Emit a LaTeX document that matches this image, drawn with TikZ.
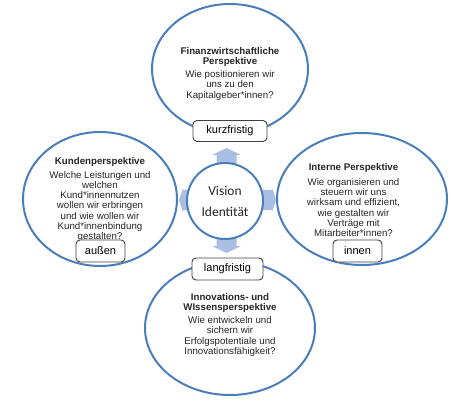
\documentclass[tikz,border=0pt]{standalone}
\usepackage{fontspec}
\setmainfont{Liberation Sans}
\newfontfamily\carlito{Carlito}
\usetikzlibrary{shapes.geometric}
\definecolor{ringblue}{HTML}{4A7EBB}
\definecolor{arrowblue}{HTML}{A9BEE2}
\definecolor{boxline}{HTML}{404040}
\definecolor{txt}{HTML}{262626}
\tikzset{
 ring/.style={ellipse, draw=ringblue, line width=2pt, fill=white, inner sep=0pt},
 body/.style={align=center, text=txt, font=\fontsize{9.7}{10.3}\selectfont, inner sep=0pt},
 tag/.style={draw=boxline, line width=0.9pt, rounded corners=4pt, fill=white, font=\fontsize{11}{12}\selectfont, inner sep=0pt, text=black},
 blockarrow/.style={fill=arrowblue, draw=none},
}
\begin{document}
\begin{tikzpicture}[x=1pt,y=-1pt]
\useasboundingbox (0,0) rectangle (450,401);
% outer rings
\node[ring, minimum width=156, minimum height=130] (fin) at (230,69) {};
\node[ring, minimum width=154, minimum height=134] (kund) at (100,199) {};
\node[ring, minimum width=170, minimum height=132] (intern) at (362,199) {};
\node[ring, minimum width=170, minimum height=134] (innov) at (230,328) {};
% texts
\node[body] (fintxt) at (230,73.5) {\textbf{Finanzwirtschaftliche}\\\textbf{Perspektive}\\[2.8pt]Wie positionieren wir\\uns zu den\\Kapitalgeber*innen?};
\node[body] (kundtxt) at (100,199.5) {\textbf{Kundenperspektive}\\[3.5pt]Welche Leistungen und\\welchen\\Kund*innennutzen\\wollen wir erbringen\\und wie wollen wir\\Kund*innenbindung\\gestalten?};
\node[body] (interntxt) at (353.5,200) {\textbf{Interne Perspektive}\\[4.5pt]Wie organisieren und\\steuern wir uns\\wirksam und effizient,\\wie gestalten wir\\Verträge mit\\Mitarbeiter*innen?};
\node[body] (innovtxt) at (230,325) {\textbf{Innovations- und}\\\textbf{WIssensperspektive}\\[2.5pt]Wie entwickeln und\\sichern wir\\Erfolgspotentiale und\\Innovationsfähigkeit?};
% block arrows
\fill[blockarrow] (226.5,148) -- (241,155) -- (236.5,155) -- (236.5,166) -- (216.5,166) -- (216.5,155) -- (212,155) -- cycle;
\fill[blockarrow] (226.5,253) -- (241,246) -- (236.5,246) -- (236.5,236) -- (216.5,236) -- (216.5,246) -- (212,246) -- cycle;
\fill[blockarrow] (179,200) -- (183,188) -- (183,190) -- (192,190) -- (192,210) -- (183,210) -- (183,212) -- cycle;
\fill[blockarrow] (276,200) -- (272,188) -- (272,190) -- (258,190) -- (258,210) -- (272,210) -- (272,212) -- cycle;
% centre
\node[circle, draw=ringblue, line width=2pt, fill=white, minimum size=76, inner sep=0pt, align=center, font=\carlito\fontsize{13.5}{21}\selectfont, text=txt] (vis) at (225,201) {Vision\\Identität};
% tags
\node[tag, minimum width=74, minimum height=21] (kurz) at (230,131) {kurzfristig};
\node[tag, minimum width=71, minimum height=22] (lang) at (227.5,269) {langfristig};
\node[tag, minimum width=49, minimum height=22] (aussen) at (100.5,251) {außen};
\node[tag, minimum width=49, minimum height=22] (innen) at (357.5,251) {innen};
\end{tikzpicture}
\end{document}
